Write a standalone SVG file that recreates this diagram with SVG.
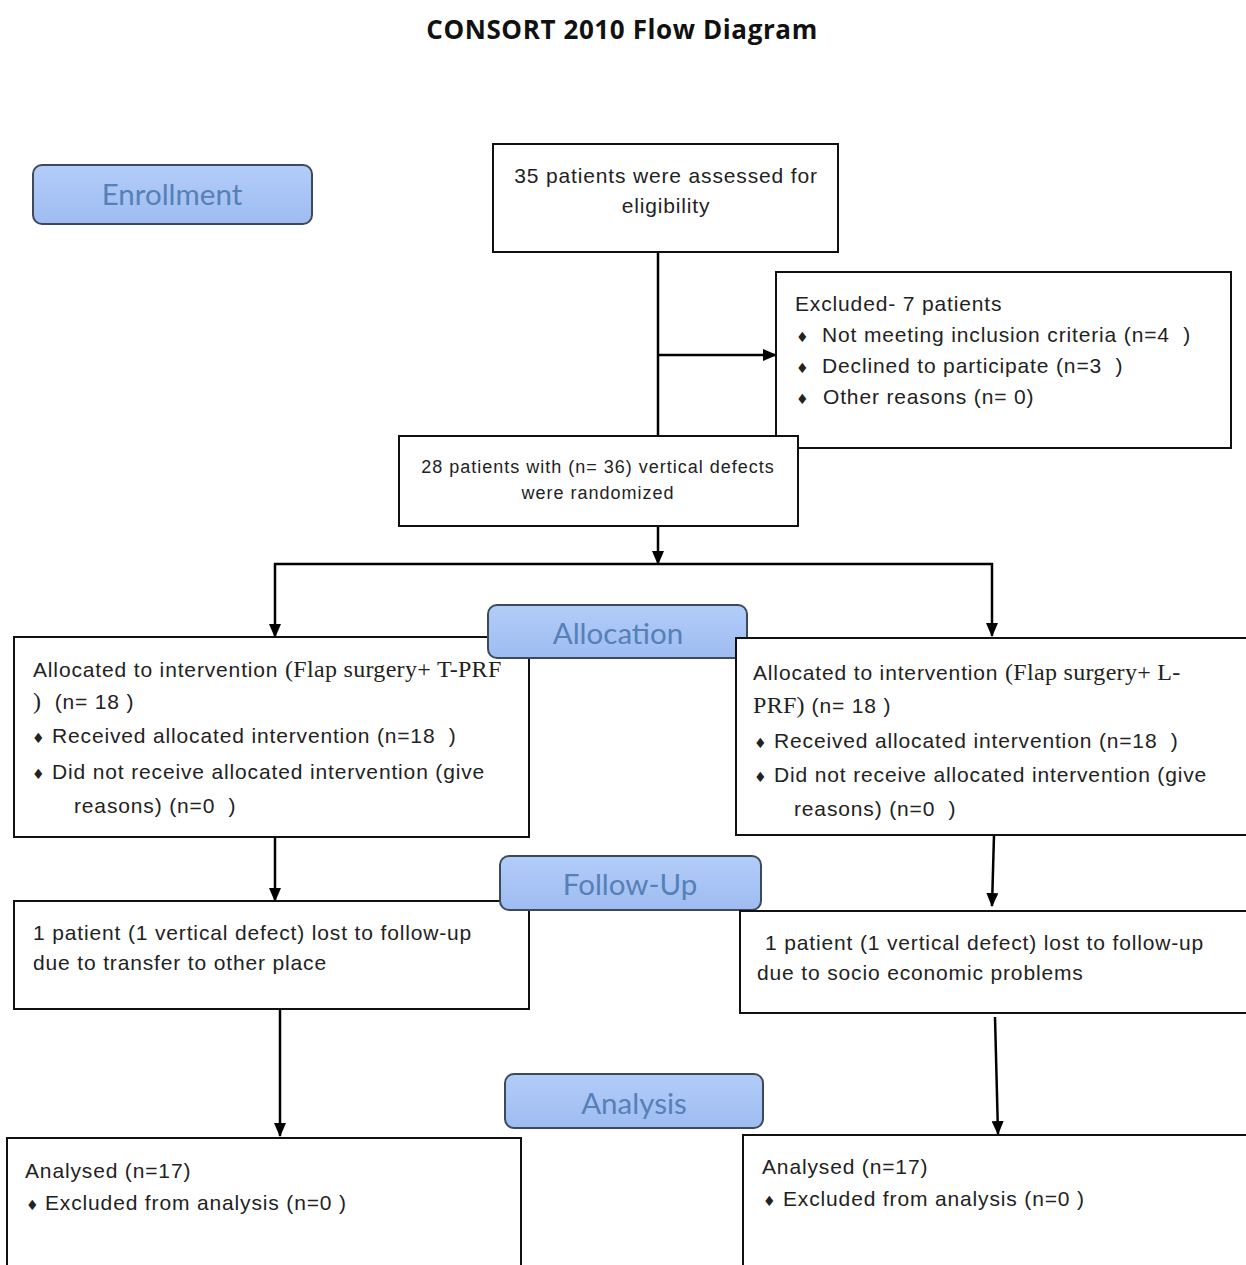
<svg xmlns="http://www.w3.org/2000/svg" width="1246" height="1265" viewBox="0 0 1246 1265">
<defs>
<marker id="ah" markerWidth="14" markerHeight="12" refX="13" refY="6" orient="auto" markerUnits="userSpaceOnUse" viewBox="0 0 14 12">
<path d="M0,0 L14,6 L0,12 z" fill="#000"/>
</marker>
<linearGradient id="lg" x1="0" y1="0" x2="0" y2="1">
<stop offset="0" stop-color="#b3cdf8"/>
<stop offset="1" stop-color="#9ebcf2"/>
</linearGradient>
</defs>
<style>
.box{fill:#fff;stroke:#111;stroke-width:2}
.lab{fill:url(#lg);stroke:#3d4a5e;stroke-width:2}
.lt{font-family:Lato,"Open Sans",sans-serif;font-size:29.5px;fill:#5680b6;text-anchor:middle}
.t{font-family:"Liberation Sans",Arial,sans-serif;font-size:21px;letter-spacing:0.85px;fill:#222}
.ts{font-family:"Liberation Sans",Arial,sans-serif;font-size:18px;letter-spacing:1px;fill:#222}
.tm{font-family:"Liberation Serif","Times New Roman",serif;font-size:24px;letter-spacing:0.3px}
.b{font-family:"DejaVu Sans",sans-serif;font-size:14px;letter-spacing:0}
.c{stroke:#000;stroke-width:2.5;fill:none}
.ca{stroke:#000;stroke-width:2.5;fill:none;marker-end:url(#ah)}
</style>
<rect width="1246" height="1265" fill="#fff"/>
<text x="622" y="39" text-anchor="middle" style="font-family:'Open Sans',Lato,sans-serif;font-weight:bold;font-size:26px;letter-spacing:0.6px;fill:#111">CONSORT 2010 Flow Diagram</text>
<g id="connectors">
<line class="c" x1="658" y1="252" x2="658" y2="436"/>
<line class="ca" x1="658" y1="355" x2="776" y2="355"/>
<line class="ca" x1="658" y1="526" x2="658" y2="564"/>
<line class="c" x1="274" y1="564" x2="993" y2="564"/>
<line class="ca" x1="275" y1="563" x2="275" y2="637"/>
<line class="ca" x1="992" y1="563" x2="992" y2="636"/>
<line class="ca" x1="275" y1="837" x2="275" y2="901"/>
<line class="ca" x1="994" y1="835" x2="992" y2="906"/>
<line class="ca" x1="280" y1="1009" x2="280" y2="1136"/>
<line class="ca" x1="995" y1="1017" x2="998" y2="1134"/>
</g>
<g id="enrollment">
<rect class="lab" x="33" y="165" width="279" height="59" rx="9"/>
<text class="lt" x="172" y="205">Enrollment</text>
</g>
<g id="assessed">
<rect class="box" x="493" y="144" width="345" height="108"/>
<text class="t" x="666" y="183" text-anchor="middle">35 patients were assessed for</text>
<text class="t" x="666" y="213" text-anchor="middle">eligibility</text>
</g>
<g id="excluded">
<rect class="box" x="776" y="272" width="455" height="176"/>
<text class="t" x="795" y="311">Excluded- 7 patients</text>
<text class="t" x="796" y="342"><tspan class="b">♦</tspan><tspan x="822">Not meeting inclusion criteria (n=4&#160; )</tspan></text>
<text class="t" x="796" y="373"><tspan class="b">♦</tspan><tspan x="822">Declined to participate (n=3&#160; )</tspan></text>
<text class="t" x="796" y="404"><tspan class="b">♦</tspan><tspan x="823">Other reasons (n= 0)</tspan></text>
</g>
<g id="randomized">
<rect class="box" x="399" y="436" width="399" height="90"/>
<text class="ts" x="598" y="473" text-anchor="middle">28 patients with (n= 36) vertical defects</text>
<text class="ts" x="598" y="499" text-anchor="middle">were randomized</text>
</g>
<g id="alloc-left">
<rect class="box" x="14" y="637" width="515" height="200"/>
<text class="t" x="33" y="677">Allocated to intervention <tspan class="tm">(Flap surgery+ T-PRF</tspan></text>
<text class="t" x="33" y="709"><tspan class="tm">)</tspan>&#160; (n= 18 )</text>
<text class="t" x="32" y="743"><tspan class="b">♦</tspan><tspan x="52">Received allocated intervention (n=18&#160; )</tspan></text>
<text class="t" x="32" y="779"><tspan class="b">♦</tspan><tspan x="52">Did not receive allocated intervention (give</tspan></text>
<text class="t" x="74" y="813">reasons) (n=0&#160; )</text>
</g>
<g id="allocation">
<rect class="lab" x="488" y="605" width="259" height="53" rx="9"/>
<text class="lt" x="618" y="644">Allocation</text>
</g>
<g id="alloc-right">
<rect class="box" x="736" y="638" width="515" height="197"/>
<text class="t" x="753" y="680">Allocated to intervention <tspan class="tm">(Flap surgery+ L-</tspan></text>
<text class="t" x="753" y="713"><tspan class="tm">PRF)</tspan> (n= 18 )</text>
<text class="t" x="754" y="748"><tspan class="b">♦</tspan><tspan x="774">Received allocated intervention (n=18&#160; )</tspan></text>
<text class="t" x="754" y="782"><tspan class="b">♦</tspan><tspan x="774">Did not receive allocated intervention (give</tspan></text>
<text class="t" x="794" y="816">reasons) (n=0&#160; )</text>
</g>
<g id="follow-left">
<rect class="box" x="14" y="901" width="515" height="108"/>
<text class="t" x="33" y="940">1 patient (1 vertical defect) lost to follow-up</text>
<text class="t" x="33" y="970">due to transfer to other place</text>
</g>
<g id="followup">
<rect class="lab" x="500" y="856" width="261" height="54" rx="9"/>
<text class="lt" x="630" y="895">Follow-Up</text>
</g>
<g id="follow-right">
<rect class="box" x="740" y="911" width="511" height="102"/>
<text class="t" x="765" y="950">1 patient (1 vertical defect) lost to follow-up</text>
<text class="t" x="757" y="980">due to socio economic problems</text>
</g>
<g id="analysis">
<rect class="lab" x="505" y="1074" width="258" height="54" rx="9"/>
<text class="lt" x="634" y="1114">Analysis</text>
</g>
<g id="analysed-left">
<rect class="box" x="7" y="1138" width="514" height="140"/>
<text class="t" x="25" y="1178">Analysed (n=17)</text>
<text class="t" x="26" y="1210"><tspan class="b">♦</tspan><tspan x="45">Excluded from analysis (n=0 )</tspan></text>
</g>
<g id="analysed-right">
<rect class="box" x="743" y="1135" width="508" height="140"/>
<text class="t" x="762" y="1174">Analysed (n=17)</text>
<text class="t" x="763" y="1206"><tspan class="b">♦</tspan><tspan x="783">Excluded from analysis (n=0 )</tspan></text>
</g>
</svg>
